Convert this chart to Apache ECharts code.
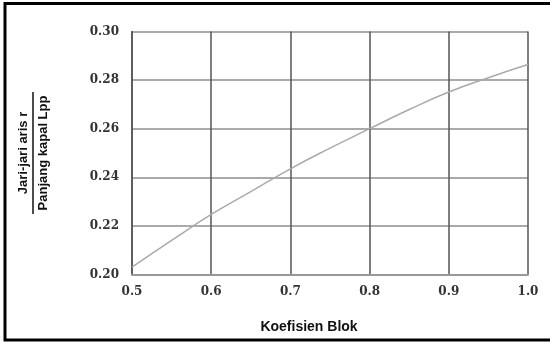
<!DOCTYPE html>
<html>
<head>
    <meta charset="utf-8">
    <title>Koefisien Blok</title>
    <script src="https://cdn.jsdelivr.net/npm/echarts@6/dist/echarts.min.js"></script>
    <style type="text/css">
        body{
            margin: 0;
            background: #fff;
        }
        #main{
            width: 550px;
            height: 342px;
        }
    </style>
</head>
<body>
<div id="main"></div>
<script>
    // nilai
    var koefisienBlok = [0.5, 0.55, 0.6, 0.65, 0.7, 0.75, 0.8, 0.85, 0.9, 0.95, 1.0];
    var rasioJari = [0.203, 0.214, 0.2247, 0.2341, 0.2435, 0.252, 0.26, 0.2679, 0.2751, 0.281, 0.2864];
    var xTicks = [0.5, 0.6, 0.7, 0.8, 0.9, 1.0];
    var yTicks = [0.20, 0.22, 0.24, 0.26, 0.28, 0.30];

    var points = [];
    for (var i = 0; i < koefisienBlok.length; i++) {
        points.push([koefisienBlok[i], rasioJari[i]]);
    }

    var labelFont = {
        fontFamily: 'DejaVu Serif',
        fontWeight: 'bold',
        fontSize: 12,
        color: '#333'
    };

    var myChart = echarts.init(document.getElementById('main'));
    var option = {
        animation: false,
        grid: {
            left: 132,
            right: 22,
            top: 31.5,
            bottom: 67.5
        },
        xAxis: {
            type: 'value',
            min: xTicks[0],
            max: xTicks[xTicks.length - 1],
            interval: 0.1,
            axisLine: { show: true, lineStyle: { color: '#999', width: 2 } },
            axisTick: { show: false },
            axisLabel: Object.assign({ margin: 11, formatter: function (v) { return v.toFixed(1); } }, labelFont),
            splitLine: { show: true, lineStyle: { color: '#555', width: 1.5 } }
        },
        yAxis: {
            type: 'value',
            min: yTicks[0],
            max: yTicks[yTicks.length - 1],
            interval: 0.02,
            axisLine: { show: true, lineStyle: { color: '#555', width: 1.5 } },
            axisTick: { show: false },
            axisLabel: Object.assign({ margin: 13, formatter: function (v) { return v.toFixed(2); } }, labelFont),
            splitLine: { show: true, lineStyle: { color: '#aaa', width: 2 } }
        },
        series: [{
            type: 'line',
            data: points,
            smooth: true,
            showSymbol: false,
            lineStyle: { color: '#aaa', width: 1.5 }
        }],
        graphic: [
            {
                type: 'rect',
                shape: { x: 5, y: 3.5, width: 600, height: 336.5 },
                style: { fill: null, stroke: '#000', lineWidth: 3 },
                silent: true
            },
            {
                type: 'text',
                x: 309,
                y: 327,
                style: {
                    text: 'Koefisien Blok',
                    fontFamily: 'Liberation Sans',
                    fontWeight: 'bold',
                    fontSize: 14,
                    fill: '#111',
                    align: 'center',
                    verticalAlign: 'middle'
                }
            },
            {
                type: 'group',
                x: 33,
                y: 153,
                rotation: Math.PI / 2,
                children: [
                    {
                        type: 'text',
                        x: 0,
                        y: -10,
                        style: {
                            text: 'Jari-jari aris r',
                            fontFamily: 'Liberation Sans',
                            fontWeight: 'bold',
                            fontSize: 13,
                            fill: '#111',
                            align: 'center',
                            verticalAlign: 'middle'
                        }
                    },
                    {
                        type: 'line',
                        shape: { x1: -61, y1: 0, x2: 61, y2: 0 },
                        style: { stroke: '#111', lineWidth: 1.5 }
                    },
                    {
                        type: 'text',
                        x: 0,
                        y: 10,
                        style: {
                            text: 'Panjang kapal Lpp',
                            fontFamily: 'Liberation Sans',
                            fontWeight: 'bold',
                            fontSize: 13,
                            fill: '#111',
                            align: 'center',
                            verticalAlign: 'middle'
                        }
                    }
                ]
            }
        ]
    };
    myChart.setOption(option);
</script>
</body>
</html>
